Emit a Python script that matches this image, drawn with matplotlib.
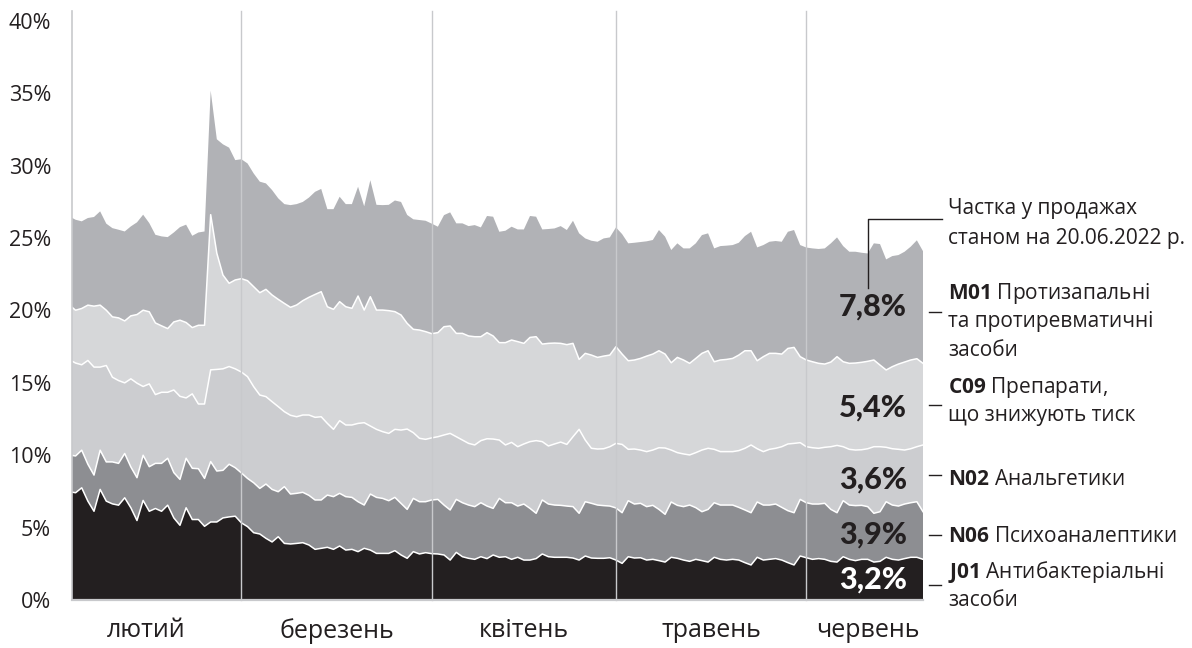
import numpy as np
import pandas as pd
import matplotlib
matplotlib.use('Agg')
import matplotlib.pyplot as plt
from matplotlib.lines import Line2D
from matplotlib import font_manager as fm

# ---------------- data (share of sales, %) ----------------
dates = pd.date_range('2022-02-01', '2022-06-20', freq='D')

# upper edge of each stacked band (cumulative %)
level_j01 = [7.48, 7.41, 7.75, 6.83, 6.13, 7.64, 6.83, 6.64, 6.55, 7.06,
             6.37, 5.49, 6.88, 6.13, 6.32, 6.13, 6.55, 5.67, 5.16, 6.37,
             5.56, 5.56, 5.09, 5.39, 5.39, 5.67, 5.74, 5.79, 5.33, 5.07,
             4.65, 4.56, 4.26, 4.01, 4.37, 3.91, 3.87, 3.91, 3.96, 3.8,
             3.5, 3.57, 3.64, 3.5, 3.73, 3.45, 3.5, 3.34, 3.57, 3.45,
             3.22, 3.22, 3.22, 3.41, 3.11, 2.88, 3.34, 3.18, 3.27, 3.2,
             3.18, 3.11, 2.76, 3.29, 2.99, 2.88, 2.81, 2.99, 2.86, 3.11,
             2.95, 2.99, 2.81, 2.95, 2.76, 2.76, 2.86, 3.18, 2.99, 2.95,
             2.95, 2.95, 2.9, 2.76, 3.04, 2.9, 2.88, 2.88, 2.92, 2.76,
             2.53, 2.99, 2.9, 2.92, 2.76, 2.81, 2.72, 2.62, 2.95, 2.88,
             2.76, 2.67, 2.81, 2.72, 2.62, 2.95, 2.81, 2.76, 2.81, 2.76,
             2.58, 2.42, 2.95, 2.76, 2.81, 2.86, 2.76, 2.58, 2.42, 3.04,
             2.92, 2.81, 2.86, 2.81, 2.67, 2.62, 2.99, 2.81, 2.72, 2.81,
             2.81, 2.62, 2.67, 2.95, 2.81, 2.76, 2.86, 2.95, 2.95, 2.81]

level_n06 = [10.02, 9.95, 10.35, 9.38, 8.63, 10.35, 9.54, 9.54, 9.44, 10.12,
             9.19, 8.45, 10.0, 9.21, 9.44, 9.44, 9.79, 8.8, 8.33, 9.79,
             9.1, 9.07, 8.4, 9.56, 8.91, 8.96, 9.38, 9.14, 8.78, 8.4,
             8.1, 7.71, 8.01, 7.64, 7.48, 7.83, 7.32, 7.37, 7.44, 7.23,
             6.91, 6.91, 7.25, 7.14, 7.37, 7.14, 7.09, 6.79, 6.56, 7.32,
             7.09, 7.02, 6.86, 7.09, 6.68, 6.26, 7.02, 6.79, 6.79, 6.91,
             6.95, 6.56, 6.22, 6.95, 6.72, 6.56, 6.45, 6.72, 6.49, 6.33,
             7.02, 6.72, 6.72, 6.49, 6.63, 6.33, 5.99, 6.91, 6.63, 6.56,
             6.54, 6.49, 6.45, 5.99, 6.79, 6.68, 6.56, 6.52, 6.49, 6.36,
             6.03, 6.86, 6.63, 6.68, 6.45, 6.54, 6.26, 5.92, 6.77, 6.54,
             6.45, 6.56, 6.38, 6.1, 6.26, 6.72, 6.56, 6.56, 6.56, 6.4,
             6.22, 6.03, 6.77, 6.56, 6.56, 6.63, 6.4, 6.17, 6.03, 6.95,
             6.72, 6.63, 6.63, 6.68, 6.26, 6.03, 6.86, 6.56, 6.52, 6.54,
             6.45, 5.99, 6.1, 6.79, 6.56, 6.49, 6.63, 6.72, 6.79, 6.1]

level_n02 = [16.6, 16.37, 16.25, 16.55, 16.09, 16.09, 16.2, 15.39, 15.16, 15.0,
             15.28, 14.98, 14.75, 14.93, 14.19, 14.35, 14.35, 14.51, 14.07, 13.96,
             14.24, 13.54, 13.54, 15.9, 15.93, 15.97, 16.13, 15.97, 15.75, 15.43,
             14.74, 14.16, 14.05, 13.7, 13.36, 13.01, 12.76, 12.66, 12.78, 12.78,
             12.62, 12.66, 12.2, 11.79, 12.39, 12.09, 12.09, 12.2, 12.25, 12.02,
             11.79, 11.63, 11.51, 11.79, 11.74, 11.81, 11.56, 11.17, 11.1, 11.2,
             11.28, 11.4, 11.51, 11.28, 11.05, 10.82, 10.71, 11.01, 11.14, 11.12,
             11.05, 10.71, 10.89, 10.59, 10.78, 10.94, 11.01, 10.94, 10.64, 10.78,
             10.91, 10.75, 11.28, 11.79, 11.05, 10.48, 10.43, 10.45, 10.59, 10.82,
             10.75, 10.41, 10.43, 10.36, 10.25, 10.36, 10.52, 10.5, 10.36, 10.18,
             10.09, 10.02, 10.18, 10.36, 10.48, 10.41, 10.25, 10.25, 10.25, 10.32,
             10.48, 10.71, 10.45, 10.25, 10.41, 10.48, 10.59, 10.78, 10.82, 10.87,
             10.59, 10.52, 10.48, 10.55, 10.59, 10.68, 10.59, 10.41, 10.36, 10.38,
             10.45, 10.59, 10.59, 10.55, 10.45, 10.41, 10.36, 10.45, 10.59, 10.71]

level_c09 = [20.37, 20.02, 20.14, 20.37, 20.3, 20.37, 20.02, 19.56, 19.49, 19.28,
             19.63, 19.72, 20.02, 19.91, 19.14, 18.94, 18.75, 19.21, 19.33, 19.17,
             18.82, 18.98, 18.98, 26.62, 23.96, 22.45, 21.88, 22.11, 22.2, 22.06,
             21.64, 21.23, 21.46, 21.07, 20.77, 20.49, 20.22, 20.38, 20.68, 20.91,
             21.11, 21.3, 20.26, 20.08, 20.61, 20.26, 20.15, 21.0, 20.03, 20.95,
             20.03, 20.03, 19.99, 19.92, 19.69, 19.11, 18.7, 18.65, 18.54, 18.4,
             18.47, 18.88, 18.93, 18.42, 18.42, 18.24, 18.19, 18.19, 18.47, 18.24,
             17.78, 17.78, 17.96, 17.85, 17.73, 18.14, 18.19, 17.68, 17.73, 17.75,
             17.73, 17.64, 17.73, 16.62, 17.04, 16.92, 16.76, 16.85, 16.92, 17.5,
             16.99, 16.53, 16.58, 16.69, 16.85, 16.99, 17.22, 16.99, 16.39, 16.76,
             16.58, 16.35, 16.69, 17.04, 17.22, 16.46, 16.58, 16.62, 16.69, 16.92,
             17.22, 17.22, 16.53, 16.81, 17.04, 17.04, 16.99, 17.38, 17.45, 16.81,
             16.58, 16.46, 16.35, 16.3, 16.44, 16.81, 16.46, 16.35, 16.37, 16.42,
             16.49, 16.58, 16.23, 15.89, 16.12, 16.3, 16.44, 16.58, 16.67, 16.35]

level_m01 = [26.5, 26.27, 26.16, 26.39, 26.46, 26.85, 26.0, 25.69, 25.58, 25.46,
             25.81, 26.09, 26.62, 26.04, 25.23, 25.12, 25.07, 25.39, 25.76, 25.93,
             25.16, 25.39, 25.46, 35.19, 31.83, 31.48, 31.25, 30.39, 30.45, 30.16,
             29.47, 28.9, 28.78, 28.32, 27.75, 27.35, 27.28, 27.35, 27.5, 27.8,
             28.2, 28.4, 27.0, 27.0, 27.86, 27.35, 27.35, 28.55, 27.2, 29.0,
             27.3, 27.28, 27.3, 27.6, 27.5, 26.6, 26.3, 26.25, 26.2, 26.0,
             25.79, 26.59, 26.78, 26.02, 26.02, 25.83, 25.9, 25.74, 26.53, 26.48,
             25.44, 25.51, 25.79, 25.6, 25.6, 26.53, 26.48, 25.6, 25.63, 25.67,
             25.83, 25.56, 26.2, 25.33, 24.98, 24.82, 24.75, 24.98, 25.05, 25.74,
             25.28, 24.64, 24.68, 24.73, 24.78, 24.87, 25.56, 25.1, 24.18, 24.64,
             24.29, 24.29, 24.64, 25.21, 25.33, 24.29, 24.45, 24.48, 24.52, 24.68,
             25.14, 25.44, 24.36, 24.52, 24.75, 24.8, 24.75, 25.44, 25.56, 24.52,
             24.35, 24.29, 24.25, 24.29, 24.64, 25.05, 24.45, 24.06, 24.06, 23.99,
             23.94, 24.64, 24.59, 23.53, 23.76, 23.83, 24.06, 24.41, 24.85, 24.1]

series_codes = ['J01', 'N06', 'N02', 'C09', 'M01']
final_shares = ['3,2%', '3,9%', '3,6%', '5,4%', '7,8%']
month_names = ['лютий', 'березень', 'квітень', 'травень', 'червень']
y_ticks = [0, 5, 10, 15, 20, 25, 30, 35, 40]
note_lines = ['Частка у продажах', 'станом на 20.06.2022 р.']

# ---------------- style ----------------
W, H = 1192, 648
DARK = '#231f20'
GRID = '#c8c9cc'
band_colors = ['#231f20', '#8d8e92', '#cccdd0', '#d6d7d9', '#b1b2b6']
FONT = 'Open Sans'
plt.rcParams['font.family'] = [FONT, 'DejaVu Sans']
plt.rcParams['mathtext.fontset'] = 'custom'
plt.rcParams['mathtext.bf'] = FONT + ':bold'
plt.rcParams['mathtext.rm'] = FONT


def _wnum(w):
    if isinstance(w, (int, float)):
        return int(w)
    table = {'thin': 100, 'extralight': 200, 'ultralight': 200, 'light': 300,
             'normal': 400, 'regular': 400, 'book': 400, 'medium': 500,
             'semibold': 600, 'demibold': 600, 'bold': 700, 'extrabold': 800,
             'ultrabold': 800, 'heavy': 900, 'black': 900}
    return table.get(str(w).lower(), 400)


def heavy_font():
    prefs = ['Lato', 'Roboto', 'Inter', 'Open Sans', 'Noto Sans']
    best = None
    for f in fm.fontManager.ttflist:
        if f.name in prefs and f.style == 'normal':
            w = _wnum(f.weight)
            if w >= 800 and ('Condensed' not in f.fname):
                key = (w, -prefs.index(f.name))
                if best is None or key > best[0]:
                    best = (key, f.fname)
    if best is None:
        return fm.FontProperties(family='DejaVu Sans', weight='bold')
    return fm.FontProperties(fname=best[1])


HEAVY = heavy_font()

fig = plt.figure(figsize=(W / 100, H / 100), dpi=100)
ax = fig.add_axes([72 / W, 1 - 600 / H, 851 / W, 579 / H])

x = dates.to_pydatetime()
levels = np.array([level_j01, level_n06, level_n02, level_c09, level_m01])
shares = np.diff(np.vstack([np.zeros(len(x)), levels]), axis=0)
ax.stackplot(x, shares, colors=band_colors, linewidth=0, zorder=1)
for lv in levels[:-1]:
    ax.plot(x, lv, color='white', lw=1.1, zorder=2)

x0 = dates[0] + pd.Timedelta(hours=10)
ax.set_xlim(x0, dates[-1])
ax.set_ylim(0, 40)

# month separators
month_starts = pd.date_range('2022-02-01', '2022-06-01', freq='MS')
for ms in month_starts[1:]:
    ax.axvline(ms, ymin=0, ymax=1.018, color=GRID, lw=1.0, zorder=3, clip_on=False)
ax.axvline(x0, ymin=0, ymax=1.018, color=GRID, lw=1.2, zorder=3, clip_on=False)
ax.axhline(0, color=GRID, lw=1.6, zorder=3, clip_on=False)

for s in ax.spines.values():
    s.set_visible(False)

# month labels at the middle of each visible month
bounds = list(month_starts) + [dates[-1] + pd.Timedelta(days=1)]
mids = []
for a, b in zip(bounds[:-1], bounds[1:]):
    a = max(a, dates[0])
    mids.append(a + (b - a) / 2)
mids[0] = mids[0] - pd.Timedelta(days=1.5)
ax.set_xticks(mids)
ax.set_xticklabels(month_names, fontsize=18, color=DARK)
ax.tick_params(axis='x', length=0, pad=13)

ax.set_yticks(y_ticks)
ax.set_yticklabels([f'{v}%' for v in y_ticks], fontsize=15.5, color=DARK)
ax.tick_params(axis='y', length=0, pad=15)


def fx(px):
    return px / W


def fy(py):
    return 1 - py / H


# final-value labels inside the bands
pct_baselines = [589, 544, 489, 417, 316]
for lab, yb, col in zip(final_shares, pct_baselines,
                        ['white', DARK, DARK, DARK, DARK]):
    fig.text(fx(907), fy(yb), lab, ha='right', va='baseline', fontsize=22,
             fontproperties=HEAVY, color=col)

# note with connector
fig.text(fx(948), fy(214), note_lines[0], fontsize=15, color=DARK, va='baseline')
fig.text(fx(948), fy(244), note_lines[1], fontsize=15, color=DARK, va='baseline')
fig.add_artist(Line2D([fx(868), fx(868), fx(942)], [fy(288), fy(219), fy(219)],
                      color=DARK, lw=1.0))

# legend texts
legend_blocks = [
    ('M01', ['Протизапальні', 'та протиревматичні', 'засоби'], 299, 312),
    ('C09', ['Препарати,', 'що знижують тиск'], 393, 405),
    ('N02', ['Анальгетики'], 485, 475),
    ('N06', ['Психоаналептики'], 542, 535),
    ('J01', ['Антибактеріальні', 'засоби'], 578, 585),
]
LS = 28.5
for code, lines, yb, ytick in legend_blocks:
    for k, line in enumerate(lines):
        s = (r'$\mathbf{' + code + r'}$ ' + line) if k == 0 else line
        fig.text(fx(948), fy(yb + k * LS), s, fontsize=15, color=DARK, va='baseline')
    fig.add_artist(Line2D([fx(929), fx(941)], [fy(ytick), fy(ytick)], color=DARK, lw=1.0))

fig.savefig('out.png', dpi=100)
